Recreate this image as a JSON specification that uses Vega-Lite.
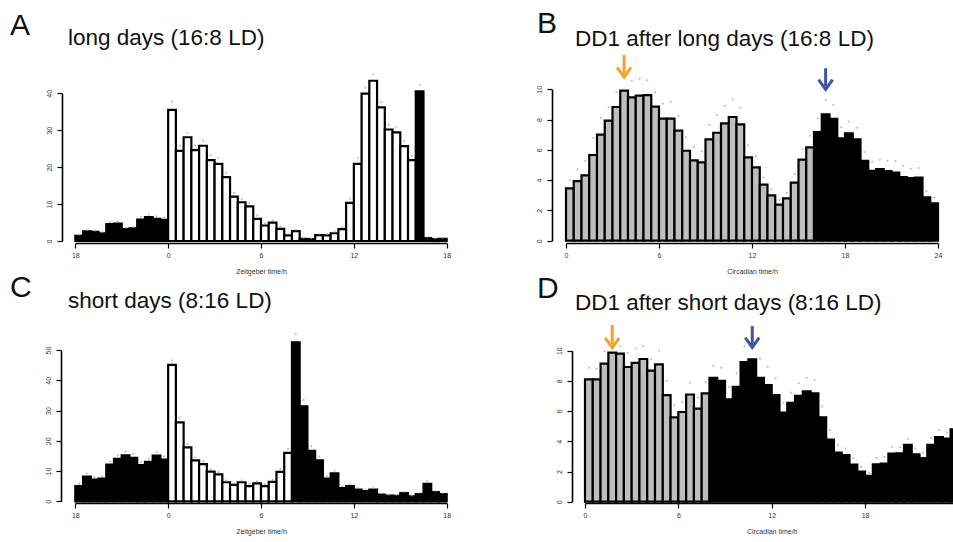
{
"$schema": "https://vega.github.io/schema/vega-lite/v6.json",
"width": 953, "height": 542, "padding": 0, "autosize": {"type": "none"},
"background": "white",
"config": {
  "view": {"stroke": null},
  "scale": {"continuousPadding": 0},
  "axis": {"grid": false, "labelFlush": false, "domainColor": "black", "domainWidth": 1.6, "tickColor": "black", "tickWidth": 1.2, "tickSize": 5,
    "labelFont": "Liberation Sans", "labelFontSize": 7, "labelColor": "#333", "labelPadding": 3,
    "titleFont": "Liberation Sans", "titleFontSize": 7, "titleFontWeight": "normal", "titleColor": "#333", "titlePadding": 9}
},
"resolve": {"scale": {"x": "independent", "y": "independent"}, "axis": {"x": "independent", "y": "independent"}},
"datasets": {
"A": [
{"m":-5.75,"v":1.4,"u":1.7,"p":"D"},{"m":-5.25,"v":2.6,"u":2.9,"p":"D"},{"m":-4.75,"v":2.5,"u":2.8,"p":"D"},{"m":-4.25,"v":2.1,"u":2.4,"p":"D"},
{"m":-3.75,"v":4.6,"u":5.1,"p":"D"},{"m":-3.25,"v":4.7,"u":5.2,"p":"D"},{"m":-2.75,"v":3.25,"u":3.6,"p":"D"},{"m":-2.25,"v":3.4,"u":3.8,"p":"D"},
{"m":-1.75,"v":5.8,"u":6.6,"p":"D"},{"m":-1.25,"v":6.5,"u":7.2,"p":"D"},{"m":-0.75,"v":6.0,"u":6.7,"p":"D"},{"m":-0.25,"v":5.7,"u":6.4,"p":"D"},
{"m":0.25,"v":35.5,"u":37.8,"p":"L"},{"m":0.75,"v":24.4,"u":25.8,"p":"L"},{"m":1.25,"v":28.1,"u":29.3,"p":"L"},{"m":1.75,"v":24.6,"u":25.9,"p":"L"},
{"m":2.25,"v":25.8,"u":27.2,"p":"L"},{"m":2.75,"v":21.9,"u":23.2,"p":"L"},{"m":3.25,"v":20.9,"u":22.4,"p":"L"},{"m":3.75,"v":17.3,"u":18.4,"p":"L"},
{"m":4.25,"v":12.0,"u":13.0,"p":"L"},{"m":4.75,"v":10.5,"u":11.4,"p":"L"},{"m":5.25,"v":9.4,"u":10.3,"p":"L"},{"m":5.75,"v":6.0,"u":6.9,"p":"L"},
{"m":6.25,"v":4.2,"u":4.8,"p":"L"},{"m":6.75,"v":5.0,"u":5.6,"p":"L"},{"m":7.25,"v":3.3,"u":3.9,"p":"L"},{"m":7.75,"v":1.5,"u":1.9,"p":"L"},
{"m":8.25,"v":2.7,"u":3.0,"p":"L"},{"m":8.75,"v":0.6,"u":0.8,"p":"L"},{"m":9.25,"v":0.5,"u":0.7,"p":"L"},{"m":9.75,"v":1.6,"u":1.9,"p":"L"},
{"m":10.25,"v":1.5,"u":1.8,"p":"L"},{"m":10.75,"v":2.1,"u":2.5,"p":"L"},{"m":11.25,"v":3.2,"u":3.7,"p":"L"},{"m":11.75,"v":10.3,"u":11.5,"p":"L"},
{"m":12.25,"v":20.9,"u":22.4,"p":"L"},{"m":12.75,"v":39.9,"u":41.5,"p":"L"},{"m":13.25,"v":43.4,"u":45.1,"p":"L"},{"m":13.75,"v":36.2,"u":37.6,"p":"L"},
{"m":14.25,"v":30.2,"u":31.5,"p":"L"},{"m":14.75,"v":29.4,"u":30.8,"p":"L"},{"m":15.25,"v":25.7,"u":27.0,"p":"L"},{"m":15.75,"v":21.9,"u":23.0,"p":"L"},
{"m":16.25,"v":40.5,"u":42.3,"p":"D"},{"m":16.75,"v":0.8,"u":1.0,"p":"D"},{"m":17.25,"v":0.5,"u":0.7,"p":"D"},{"m":17.75,"v":0.6,"u":0.8,"p":"D"}
],
"B": [
{"m":0.25,"v":3.46,"u":4.0,"p":"S"},{"m":0.75,"v":3.94,"u":4.7,"p":"S"},{"m":1.25,"v":4.32,"u":5.28,"p":"S"},{"m":1.75,"v":5.66,"u":6.8,"p":"S"},
{"m":2.25,"v":7.0,"u":8.1,"p":"S"},{"m":2.75,"v":7.93,"u":8.8,"p":"S"},{"m":3.25,"v":8.83,"u":9.8,"p":"S"},{"m":3.75,"v":9.91,"u":10.9,"p":"S"},
{"m":4.25,"v":9.47,"u":10.57,"p":"S"},{"m":4.75,"v":9.58,"u":10.68,"p":"S"},{"m":5.25,"v":9.62,"u":10.6,"p":"S"},{"m":5.75,"v":8.85,"u":9.8,"p":"S"},
{"m":6.25,"v":8.06,"u":9.05,"p":"S"},{"m":6.75,"v":8.06,"u":9.18,"p":"S"},{"m":7.25,"v":7.27,"u":8.23,"p":"S"},{"m":7.75,"v":5.94,"u":6.83,"p":"S"},
{"m":8.25,"v":5.3,"u":6.19,"p":"S"},{"m":8.75,"v":5.17,"u":5.9,"p":"S"},{"m":9.25,"v":6.69,"u":7.64,"p":"S"},{"m":9.75,"v":7.13,"u":8.3,"p":"S"},
{"m":10.25,"v":7.75,"u":8.92,"p":"S"},{"m":10.75,"v":8.17,"u":9.33,"p":"S"},{"m":11.25,"v":7.68,"u":8.78,"p":"S"},{"m":11.75,"v":5.5,"u":6.3,"p":"S"},
{"m":12.25,"v":4.84,"u":5.6,"p":"S"},{"m":12.75,"v":3.7,"u":4.18,"p":"S"},{"m":13.25,"v":2.99,"u":3.39,"p":"S"},{"m":13.75,"v":2.38,"u":2.69,"p":"S"},
{"m":14.25,"v":2.8,"u":3.15,"p":"S"},{"m":14.75,"v":3.83,"u":4.4,"p":"S"},{"m":15.25,"v":5.35,"u":6.05,"p":"S"},{"m":15.75,"v":6.16,"u":6.94,"p":"S"},
{"m":16.25,"v":7.18,"u":8.08,"p":"D"},{"m":16.75,"v":8.34,"u":9.31,"p":"D"},{"m":17.25,"v":8.04,"u":8.98,"p":"D"},{"m":17.75,"v":6.76,"u":7.49,"p":"D"},
{"m":18.25,"v":7.09,"u":7.88,"p":"D"},{"m":18.75,"v":6.69,"u":7.46,"p":"D"},{"m":19.25,"v":5.28,"u":5.86,"p":"D"},{"m":19.75,"v":4.62,"u":5.22,"p":"D"},
{"m":20.25,"v":4.73,"u":5.35,"p":"D"},{"m":20.75,"v":4.6,"u":5.28,"p":"D"},{"m":21.25,"v":4.49,"u":5.24,"p":"D"},{"m":21.75,"v":4.2,"u":4.95,"p":"D"},
{"m":22.25,"v":4.14,"u":4.76,"p":"D"},{"m":22.75,"v":4.16,"u":4.8,"p":"D"},{"m":23.25,"v":2.86,"u":3.28,"p":"D"},{"m":23.75,"v":2.47,"u":2.84,"p":"D"}
],
"C": [
{"m":-5.75,"v":5.0,"u":5.8,"p":"D"},{"m":-5.25,"v":8.2,"u":9.2,"p":"D"},{"m":-4.75,"v":7.2,"u":8.0,"p":"D"},{"m":-4.25,"v":7.5,"u":8.3,"p":"D"},
{"m":-3.75,"v":12.1,"u":13.2,"p":"D"},{"m":-3.25,"v":14.0,"u":15.2,"p":"D"},{"m":-2.75,"v":15.2,"u":16.4,"p":"D"},{"m":-2.25,"v":14.4,"u":15.6,"p":"D"},
{"m":-1.75,"v":12.0,"u":13.0,"p":"D"},{"m":-1.25,"v":13.0,"u":14.1,"p":"D"},{"m":-0.75,"v":15.1,"u":16.3,"p":"D"},{"m":-0.25,"v":13.8,"u":14.8,"p":"D"},
{"m":0.25,"v":45.1,"u":46.5,"p":"L"},{"m":0.75,"v":26.1,"u":27.6,"p":"L"},{"m":1.25,"v":17.8,"u":19.0,"p":"L"},{"m":1.75,"v":13.5,"u":14.5,"p":"L"},
{"m":2.25,"v":12.3,"u":13.2,"p":"L"},{"m":2.75,"v":9.8,"u":10.6,"p":"L"},{"m":3.25,"v":8.9,"u":9.7,"p":"L"},{"m":3.75,"v":6.3,"u":6.9,"p":"L"},
{"m":4.25,"v":5.4,"u":5.9,"p":"L"},{"m":4.75,"v":6.3,"u":6.9,"p":"L"},{"m":5.25,"v":5.0,"u":5.6,"p":"L"},{"m":5.75,"v":5.9,"u":6.6,"p":"L"},
{"m":6.25,"v":5.0,"u":5.6,"p":"L"},{"m":6.75,"v":6.4,"u":7.1,"p":"L"},{"m":7.25,"v":9.7,"u":10.6,"p":"L"},{"m":7.75,"v":16.0,"u":17.3,"p":"L"},
{"m":8.25,"v":52.5,"u":55.4,"p":"D"},{"m":8.75,"v":31.4,"u":33.5,"p":"D"},{"m":9.25,"v":16.7,"u":18.2,"p":"D"},{"m":9.75,"v":13.5,"u":14.8,"p":"D"},
{"m":10.25,"v":7.5,"u":8.3,"p":"D"},{"m":10.75,"v":9.2,"u":10.1,"p":"D"},{"m":11.25,"v":4.4,"u":5.0,"p":"D"},{"m":11.75,"v":5.0,"u":5.6,"p":"D"},
{"m":12.25,"v":3.9,"u":4.4,"p":"D"},{"m":12.75,"v":3.4,"u":3.9,"p":"D"},{"m":13.25,"v":3.9,"u":4.4,"p":"D"},{"m":13.75,"v":2.2,"u":2.6,"p":"D"},
{"m":14.25,"v":1.9,"u":2.2,"p":"D"},{"m":14.75,"v":1.8,"u":2.1,"p":"D"},{"m":15.25,"v":2.7,"u":3.1,"p":"D"},{"m":15.75,"v":1.6,"u":1.9,"p":"D"},
{"m":16.25,"v":2.4,"u":2.8,"p":"D"},{"m":16.75,"v":5.8,"u":6.6,"p":"D"},{"m":17.25,"v":3.0,"u":3.4,"p":"D"},{"m":17.75,"v":2.4,"u":2.7,"p":"D"}
],
"D": [
{"m":0.25,"v":8.1,"u":8.87,"p":"S"},{"m":0.75,"v":8.1,"u":8.8,"p":"S"},{"m":1.25,"v":9.14,"u":9.95,"p":"S"},{"m":1.75,"v":9.87,"u":10.5,"p":"S"},
{"m":2.25,"v":9.8,"u":10.3,"p":"S"},{"m":2.75,"v":8.92,"u":9.87,"p":"S"},{"m":3.25,"v":9.2,"u":10.15,"p":"S"},{"m":3.75,"v":9.45,"u":10.3,"p":"S"},
{"m":4.25,"v":8.68,"u":9.43,"p":"S"},{"m":4.75,"v":9.1,"u":10.0,"p":"S"},{"m":5.25,"v":7.06,"u":8.0,"p":"S"},{"m":5.75,"v":5.58,"u":6.38,"p":"S"},
{"m":6.25,"v":5.94,"u":6.62,"p":"S"},{"m":6.75,"v":7.1,"u":7.88,"p":"S"},{"m":7.25,"v":6.16,"u":6.9,"p":"S"},{"m":7.75,"v":7.17,"u":7.92,"p":"S"},
{"m":8.25,"v":8.2,"u":9.0,"p":"D"},{"m":8.75,"v":8.0,"u":8.87,"p":"D"},{"m":9.25,"v":6.78,"u":7.6,"p":"D"},{"m":9.75,"v":7.6,"u":8.5,"p":"D"},
{"m":10.25,"v":9.25,"u":10.3,"p":"D"},{"m":10.75,"v":9.43,"u":10.4,"p":"D"},{"m":11.25,"v":8.2,"u":9.49,"p":"D"},{"m":11.75,"v":7.72,"u":8.94,"p":"D"},
{"m":12.25,"v":7.06,"u":8.17,"p":"D"},{"m":12.75,"v":5.9,"u":6.56,"p":"D"},{"m":13.25,"v":6.55,"u":7.23,"p":"D"},{"m":13.75,"v":7.01,"u":7.84,"p":"D"},
{"m":14.25,"v":7.3,"u":8.21,"p":"D"},{"m":14.75,"v":7.17,"u":8.04,"p":"D"},{"m":15.25,"v":5.58,"u":6.3,"p":"D"},{"m":15.75,"v":4.12,"u":4.75,"p":"D"},
{"m":16.25,"v":3.25,"u":3.74,"p":"D"},{"m":16.75,"v":3.09,"u":3.53,"p":"D"},{"m":17.25,"v":2.45,"u":2.88,"p":"D"},{"m":17.75,"v":2.0,"u":2.32,"p":"D"},
{"m":18.25,"v":1.72,"u":1.9,"p":"D"},{"m":18.75,"v":2.47,"u":2.89,"p":"D"},{"m":19.25,"v":2.52,"u":2.96,"p":"D"},{"m":19.75,"v":3.18,"u":3.62,"p":"D"},
{"m":20.25,"v":3.2,"u":3.62,"p":"D"},{"m":20.75,"v":3.76,"u":4.15,"p":"D"},{"m":21.25,"v":3.13,"u":3.53,"p":"D"},{"m":21.75,"v":2.89,"u":3.22,"p":"D"},
{"m":22.25,"v":3.77,"u":4.22,"p":"D"},{"m":22.75,"v":4.27,"u":4.75,"p":"D"},{"m":23.25,"v":4.18,"u":4.59,"p":"D"},{"m":23.75,"v":4.79,"u":5.34,"p":"D"}
]
},
"layer": [
{
 "data": {"name": "A"},
 "layer": [
  {"mark": {"type": "bar", "width": 7.73, "stroke": "black", "strokeWidth": 2.2},
   "encoding": {
    "x": {"field": "m", "type": "quantitative", "scale": {"domain": [-6, 18], "range": [75.3, 446.7], "nice": false, "zero": false, "padding": 0},
          "axis": {"orient": "bottom", "offset": -299, "values": [-6, 0, 6, 12, 18], "labelExpr": "datum.value < 0 ? datum.value + 24 : datum.value", "title": "Zeitgeber time/h"}},
    "y": {"field": "v", "type": "quantitative", "scale": {"domain": [0, 40], "range": [241, 93.3], "nice": false},
          "axis": {"orient": "left", "offset": -62, "values": [0, 10, 20, 30, 40], "labelAngle": -90, "labelAlign": "center", "labelBaseline": "bottom", "labelPadding": 5, "title": null}},
    "fill": {"field": "p", "type": "nominal", "scale": {"domain": ["L", "D", "S"], "range": ["white", "black", "#bebebe"]}, "legend": null}
   }},
  {"mark": {"type": "point", "filled": true, "size": 4, "color": "#999"},
   "encoding": {"x": {"field": "m", "type": "quantitative"}, "y": {"field": "u", "type": "quantitative"}}},
  {"data": {"values": [{}]}, "mark": {"type": "text", "text": "long days (16:8 LD)", "font": "Liberation Sans", "fontSize": 22.5, "align": "left", "baseline": "alphabetic", "color": "#111"},
   "encoding": {"x": {"datum": -6.47}, "y": {"datum": 53.0}}},
  {"data": {"values": [{}]}, "mark": {"type": "text", "text": "A", "font": "Liberation Sans", "fontSize": 30, "align": "left", "baseline": "alphabetic", "color": "#111"},
   "encoding": {"x": {"datum": -10.22}, "y": {"datum": 55.8}}}
 ]
},
{
 "data": {"name": "B"},
 "layer": [
  {"mark": {"type": "bar", "width": 7.75, "stroke": "black", "strokeWidth": 2.2},
   "encoding": {
    "x": {"field": "m", "type": "quantitative", "scale": {"domain": [0, 24], "range": [566, 938], "nice": false, "zero": false, "padding": 0},
          "axis": {"orient": "bottom", "offset": -299, "values": [0, 6, 12, 18, 24], "title": "Circadian time/h"}},
    "y": {"field": "v", "type": "quantitative", "scale": {"domain": [0, 10], "range": [240.7, 89.3], "nice": false},
          "axis": {"orient": "left", "offset": -552, "values": [0, 2, 4, 6, 8, 10], "labelAngle": -90, "labelAlign": "center", "labelBaseline": "bottom", "labelPadding": 5, "title": null}},
    "fill": {"field": "p", "type": "nominal", "legend": null}
   }},
  {"mark": {"type": "point", "filled": true, "size": 4, "color": "#999"},
   "encoding": {"x": {"field": "m", "type": "quantitative"}, "y": {"field": "u", "type": "quantitative"}}},
  {"data": {"values": [{}]}, "mark": {"type": "rule", "color": "#F2A12C", "strokeWidth": 3},
   "encoding": {"x": {"datum": 3.75}, "y": {"datum": 12.27}, "y2": {"datum": 11.0}}},
  {"data": {"values": [{}]}, "mark": {"type": "point", "shape": "M-1,-0.7L0,0.7L1,-0.7", "filled": false, "size": 196, "strokeWidth": 3, "color": "#F2A12C", "opacity": 1},
   "encoding": {"x": {"datum": 3.75}, "y": {"datum": 11.13}}},
  {"data": {"values": [{}]}, "mark": {"type": "rule", "color": "#3B55A3", "strokeWidth": 3},
   "encoding": {"x": {"datum": 16.75}, "y": {"datum": 11.39}, "y2": {"datum": 10.2}}},
  {"data": {"values": [{}]}, "mark": {"type": "point", "shape": "M-1,-0.7L0,0.7L1,-0.7", "filled": false, "size": 196, "strokeWidth": 3, "color": "#3B55A3", "opacity": 1},
   "encoding": {"x": {"datum": 16.75}, "y": {"datum": 10.32}}},
  {"data": {"values": [{}]}, "mark": {"type": "text", "text": "DD1 after long days (16:8 LD)", "font": "Liberation Sans", "fontSize": 22.5, "align": "left", "baseline": "alphabetic", "color": "#111"},
   "encoding": {"x": {"datum": 0.58}, "y": {"datum": 12.85}}},
  {"data": {"values": [{}]}, "mark": {"type": "text", "text": "B", "font": "Liberation Sans", "fontSize": 30, "align": "left", "baseline": "alphabetic", "color": "#111"},
   "encoding": {"x": {"datum": -1.87}, "y": {"datum": 13.72}}}
 ]
},
{
 "data": {"name": "C"},
 "layer": [
  {"mark": {"type": "bar", "width": 7.73, "stroke": "black", "strokeWidth": 2.2},
   "encoding": {
    "x": {"field": "m", "type": "quantitative", "scale": {"domain": [-6, 18], "range": [75.3, 446.7], "nice": false, "zero": false, "padding": 0},
          "axis": {"orient": "bottom", "offset": -39, "values": [-6, 0, 6, 12, 18], "labelExpr": "datum.value < 0 ? datum.value + 24 : datum.value", "title": "Zeitgeber time/h"}},
    "y": {"field": "v", "type": "quantitative", "scale": {"domain": [0, 50], "range": [501.3, 350], "nice": false},
          "axis": {"orient": "left", "offset": -61, "values": [0, 10, 20, 30, 40, 50], "labelAngle": -90, "labelAlign": "center", "labelBaseline": "bottom", "labelPadding": 5, "title": null}},
    "fill": {"field": "p", "type": "nominal", "legend": null}
   }},
  {"mark": {"type": "point", "filled": true, "size": 4, "color": "#999"},
   "encoding": {"x": {"field": "m", "type": "quantitative"}, "y": {"field": "u", "type": "quantitative"}}},
  {"data": {"values": [{}]}, "mark": {"type": "text", "text": "short days (8:16 LD)", "font": "Liberation Sans", "fontSize": 22.5, "align": "left", "baseline": "alphabetic", "color": "#111"},
   "encoding": {"x": {"datum": -6.47}, "y": {"datum": 64.0}}},
  {"data": {"values": [{}]}, "mark": {"type": "text", "text": "C", "font": "Liberation Sans", "fontSize": 30, "align": "left", "baseline": "alphabetic", "color": "#111"},
   "encoding": {"x": {"datum": -10.22}, "y": {"datum": 67.5}}}
 ]
},
{
 "data": {"name": "D"},
 "layer": [
  {"mark": {"type": "bar", "width": 7.78, "stroke": "black", "strokeWidth": 2.2},
   "encoding": {
    "x": {"field": "m", "type": "quantitative", "scale": {"domain": [0, 24], "range": [585, 958.4], "nice": false, "zero": false, "padding": 0},
          "axis": {"orient": "bottom", "offset": -39, "values": [0, 6, 12, 18, 24], "title": "Circadian time/h"}},
    "y": {"field": "v", "type": "quantitative", "scale": {"domain": [0, 10], "range": [501.7, 350.7], "nice": false},
          "axis": {"orient": "left", "offset": -572, "values": [0, 2, 4, 6, 8, 10], "labelAngle": -90, "labelAlign": "center", "labelBaseline": "bottom", "labelPadding": 5, "title": null}},
    "fill": {"field": "p", "type": "nominal", "legend": null}
   }},
  {"mark": {"type": "point", "filled": true, "size": 4, "color": "#999"},
   "encoding": {"x": {"field": "m", "type": "quantitative"}, "y": {"field": "u", "type": "quantitative"}}},
  {"data": {"values": [{}]}, "mark": {"type": "rule", "color": "#F2A12C", "strokeWidth": 3},
   "encoding": {"x": {"datum": 1.75}, "y": {"datum": 11.7}, "y2": {"datum": 10.4}}},
  {"data": {"values": [{}]}, "mark": {"type": "point", "shape": "M-1,-0.7L0,0.7L1,-0.7", "filled": false, "size": 196, "strokeWidth": 3, "color": "#F2A12C", "opacity": 1},
   "encoding": {"x": {"datum": 1.75}, "y": {"datum": 10.52}}},
  {"data": {"values": [{}]}, "mark": {"type": "rule", "color": "#3B55A3", "strokeWidth": 3},
   "encoding": {"x": {"datum": 10.75}, "y": {"datum": 11.63}, "y2": {"datum": 10.4}}},
  {"data": {"values": [{}]}, "mark": {"type": "point", "shape": "M-1,-0.7L0,0.7L1,-0.7", "filled": false, "size": 196, "strokeWidth": 3, "color": "#3B55A3", "opacity": 1},
   "encoding": {"x": {"datum": 10.75}, "y": {"datum": 10.54}}},
  {"data": {"values": [{}]}, "mark": {"type": "text", "text": "DD1 after short days (8:16 LD)", "font": "Liberation Sans", "fontSize": 22.5, "align": "left", "baseline": "alphabetic", "color": "#111"},
   "encoding": {"x": {"datum": -0.64}, "y": {"datum": 12.7}}},
  {"data": {"values": [{}]}, "mark": {"type": "text", "text": "D", "font": "Liberation Sans", "fontSize": 30, "align": "left", "baseline": "alphabetic", "color": "#111"},
   "encoding": {"x": {"datum": -3.08}, "y": {"datum": 13.49}}}
 ]
}
]
}
